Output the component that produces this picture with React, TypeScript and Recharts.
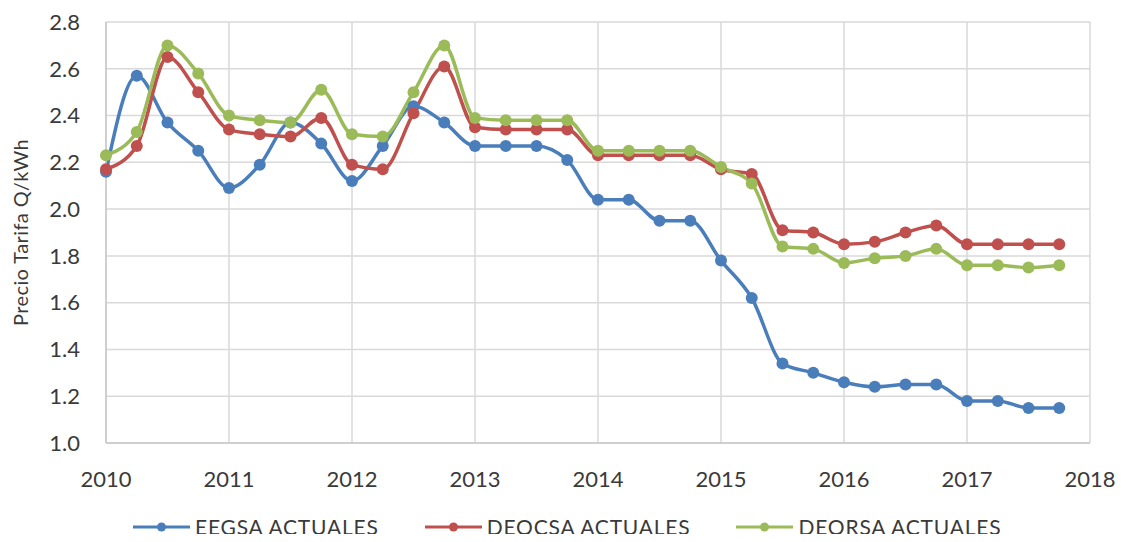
import { LineChart, Line, XAxis, YAxis, CartesianGrid, Legend } from 'recharts';

const QUARTERS = [
    2010, 2010.25, 2010.5, 2010.75, 2011, 2011.25, 2011.5, 2011.75,
    2012, 2012.25, 2012.5, 2012.75, 2013, 2013.25, 2013.5, 2013.75,
    2014, 2014.25, 2014.5, 2014.75, 2015, 2015.25, 2015.5, 2015.75,
    2016, 2016.25, 2016.5, 2016.75, 2017, 2017.25, 2017.5, 2017.75,
];

const EEGSA = [
    2.16, 2.57, 2.37, 2.25, 2.09, 2.19, 2.37, 2.28,
    2.12, 2.27, 2.44, 2.37, 2.27, 2.27, 2.27, 2.21,
    2.04, 2.04, 1.95, 1.95, 1.78, 1.62, 1.34, 1.30,
    1.26, 1.24, 1.25, 1.25, 1.18, 1.18, 1.15, 1.15,
];

const DEOCSA = [
    2.17, 2.27, 2.65, 2.50, 2.34, 2.32, 2.31, 2.39,
    2.19, 2.17, 2.41, 2.61, 2.35, 2.34, 2.34, 2.34,
    2.23, 2.23, 2.23, 2.23, 2.17, 2.15, 1.91, 1.90,
    1.85, 1.86, 1.90, 1.93, 1.85, 1.85, 1.85, 1.85,
];

const DEORSA = [
    2.23, 2.33, 2.70, 2.58, 2.40, 2.38, 2.37, 2.51,
    2.32, 2.31, 2.50, 2.70, 2.39, 2.38, 2.38, 2.38,
    2.25, 2.25, 2.25, 2.25, 2.18, 2.11, 1.84, 1.83,
    1.77, 1.79, 1.80, 1.83, 1.76, 1.76, 1.75, 1.76,
];

const YEAR_TICKS = [2010, 2011, 2012, 2013, 2014, 2015, 2016, 2017, 2018];
const PRICE_TICKS = [1.0, 1.2, 1.4, 1.6, 1.8, 2.0, 2.2, 2.4, 2.6, 2.8];

const SERIES = [
    { key: 'eegsa', name: 'EEGSA ACTUALES', color: '#4a7ebb' },
    { key: 'deocsa', name: 'DEOCSA ACTUALES', color: '#c0504d' },
    { key: 'deorsa', name: 'DEORSA ACTUALES', color: '#9bbb59' },
];

const data = QUARTERS.map((t, i) => ({
    t,
    eegsa: EEGSA[i],
    deocsa: DEOCSA[i],
    deorsa: DEORSA[i],
}));

const FONT = 'Lato, "Open Sans", sans-serif';
const TEXT = '#3a3a3a';

const LegendRow = () => (
    <div style={{ display: 'flex', alignItems: 'center', height: 39, paddingLeft: 133, paddingTop: 8, boxSizing: 'border-box', fontFamily: FONT, fontSize: 21, letterSpacing: 0.8, color: TEXT }}>
        {SERIES.map((s) => (
            <div key={s.key} style={{ display: 'flex', alignItems: 'center', marginRight: 46 }}>
                <svg width={57} height={12} style={{ marginRight: 5 }}>
                    <line x1={0} y1={6} x2={57} y2={6} stroke={s.color} strokeWidth={3} />
                    <circle cx={28.5} cy={6} r={4.5} fill={s.color} />
                </svg>
                <span>{s.name}</span>
            </div>
        ))}
    </div>
);

const YLabel = (props: any) => {
    const vb = props.viewBox || { x: 0, y: 0, width: 0, height: 0 };
    const x = vb.x + 20;
    const y = vb.y + vb.height / 2;
    return (
        <text x={x} y={y} transform={`rotate(-90, ${x}, ${y})`} textAnchor="middle" dominantBaseline="central" fill={TEXT} fontSize={20} letterSpacing={0.4} fontFamily={FONT}>
            Precio Tarifa Q/kWh
        </text>
    );
};

export default function App() {
    return (
        <div style={{ margin: -8, width: 1132, height: 542, background: '#fff' }}>
            <LineChart width={1132} height={542} data={data} margin={{ top: 22, right: 42, left: 0, bottom: 0 }}>
                <CartesianGrid stroke="#d9d9d9" strokeWidth={1.5} />
                <XAxis
                    dataKey="t"
                    type="number"
                    domain={[2010, 2018]}
                    ticks={YEAR_TICKS}
                    interval={0}
                    height={60}
                    tickLine={false}
                    tickSize={0}
                    tickMargin={28}
                    axisLine={{ stroke: '#c8c8c8', strokeWidth: 1.5 }}
                    tick={{ fill: TEXT, fontSize: 22, fontFamily: FONT }}
                />
                <YAxis
                    type="number"
                    domain={[1, 2.8]}
                    ticks={PRICE_TICKS}
                    interval={0}
                    width={106}
                    tickLine={false}
                    tickSize={0}
                    tickMargin={26}
                    tickFormatter={(v: number) => v.toFixed(1)}
                    axisLine={{ stroke: '#c8c8c8', strokeWidth: 1.5 }}
                    tick={{ fill: TEXT, fontSize: 22, fontFamily: FONT }}
                    label={<YLabel />}
                />
                <Legend verticalAlign="bottom" content={() => <LegendRow />} />
                {SERIES.map((s) => (
                    <Line
                        key={s.key}
                        type="monotone"
                        dataKey={s.key}
                        name={s.name}
                        stroke={s.color}
                        strokeWidth={3.5}
                        dot={{ r: 6, fill: s.color, stroke: s.color, strokeWidth: 0 }}
                        activeDot={false}
                        isAnimationActive={false}
                    />
                ))}
            </LineChart>
        </div>
    );
}
